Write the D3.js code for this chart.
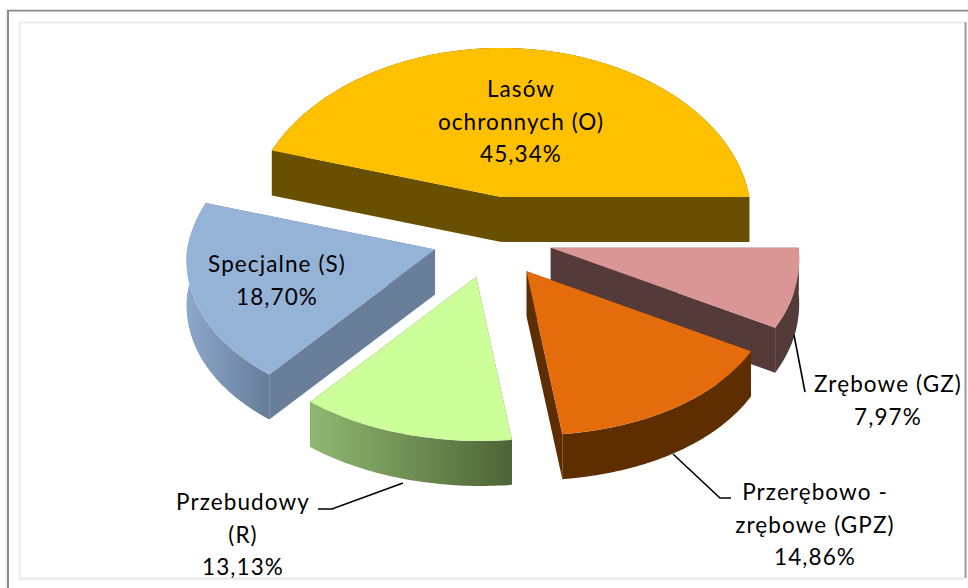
<!DOCTYPE html>
<html lang="pl">
<head>
<meta charset="utf-8">
<script src="https://cdn.jsdelivr.net/npm/d3@7"></script>
<style>
html,body{margin:0;padding:0;background:#fff;overflow:hidden}
svg{display:block}
text{font-family:Lato,"Open Sans",sans-serif;fill:#000}
</style>
</head>
<body>
<script>
// Data, clockwise from the left end of the largest slice
const categories = ["Lasów ochronnych (O)", "Zrębowe (GZ)", "Przerębowo - zrębowe (GPZ)", "Przebudowy (R)", "Specjalne (S)"];
const values = [45.34, 7.97, 14.86, 13.13, 18.70];
const labelLines = [["Lasów", "ochronnych (O)"], ["Zrębowe (GZ)"], ["Przerębowo -", "zrębowe (GPZ)"], ["Przebudowy", "(R)"], ["Specjalne (S)"]];

// Styles and layout
const topColors = ["#FFC000", "#D99694", "#E46C0A", "#CCFF99", "#95B3D7"];
const wallLeft = ["#695000", "#553A3A", "#5E2D00", "#90B870", "#8DA8CC"];
const wallRight = ["#695000", "#553A3A", "#5E2D00", "#4E6437", "#667C98"];
const edgeColors = ["#695000", "#553A3A", "#5E2D00", "#5E7A45", "#687E99"];
const drawOrder = [0, 1, 4, 2, 3];
const labelCentres = [[521, 97], [888, 392], [815, 500], [243, 510], [277, 272]];
const leaders = [null, [[794, 335], [805, 392]], [[673, 454], [720, 498], [731, 498]], [[403, 483], [332, 509], [318, 509]], null];
const W = 968, H = 588, cx = 492.5, cy = 237.5, rx = 248, explodeX = 60, explodeY = 41, depth = 45, lineH = 32.6;

const svg = d3.select("body").append("svg").attr("width", W).attr("height", H).attr("viewBox", [0, 0, W, H]);
const defs = svg.append("defs");

// Frame
const frame = svg.append("g").attr("fill", "none");
frame.append("path").attr("d", "M8,588V10.5H968").attr("stroke", "#8a8a8a").attr("stroke-width", 2);
frame.append("path").attr("d", "M6,588V9.5H968").attr("stroke", "#e4e4e4").attr("stroke-width", 1);
frame.append("path").attr("d", "M965.5,22V578").attr("stroke", "#9a9a9a").attr("stroke-width", 2);
frame.append("path").attr("d", "M19.5,578V22.5H964").attr("stroke", "#ececec").attr("stroke-width", 2);
frame.append("path").attr("d", "M19,578.5H964").attr("stroke", "#ededed").attr("stroke-width", 3);

// Slices
const pie = d3.pie().sort(null).startAngle(-73.2 * Math.PI / 180).endAngle((360 - 73.2) * Math.PI / 180);
const arcs = pie(values);
const line = d3.line();

// Perspective: the rim is narrower and flatter towards the back of the pie
function ellipsePoint(a, ox, oy, dz) {
  const c = Math.cos(a), s = Math.sin(a);
  const k = 1 - c * (c > 0 ? 0.117 : 0.067);
  const ry = c > 0 ? 149 + 16 * (1 - c) : 164 + 3 * s;
  return [ox + rx * k * s, oy - c * ry + dz];
}
function sampleArc(d, ox, oy, dz) {
  const n = Math.ceil((d.endAngle - d.startAngle) * 60);
  return d3.range(n + 1).map(i => ellipsePoint(d.startAngle + (d.endAngle - d.startAngle) * i / n, ox, oy, dz));
}

drawOrder.forEach(i => {
  const d = arcs[i];
  const mid = (d.startAngle + d.endAngle) / 2;
  const ox = cx + explodeX * Math.sin(mid);
  const oy = cy - explodeY * Math.cos(mid);
  const g = svg.append("g");
  const topArc = sampleArc(d, ox, oy, 0);
  const lowArc = sampleArc(d, ox, oy, depth);
  const first = topArc[0], last = topArc[topArc.length - 1];

  // radial walls, two quads in one path so no seam shows at the apex
  g.append("path")
    .attr("d", [first, last].map(p => line([[ox, oy], p, [p[0], p[1] + depth], [ox, oy + depth]]) + "Z").join(""))
    .attr("fill", edgeColors[i]);

  // outer wall
  const xs = d3.extent(topArc, p => p[0]);
  const gid = "wall" + i;
  const grad = defs.append("linearGradient").attr("id", gid).attr("gradientUnits", "userSpaceOnUse")
    .attr("x1", xs[0]).attr("x2", xs[1]).attr("y1", 0).attr("y2", 0);
  grad.append("stop").attr("offset", 0).attr("stop-color", wallLeft[i]);
  grad.append("stop").attr("offset", 1).attr("stop-color", wallRight[i]);
  g.append("path")
    .attr("d", line(topArc.concat(lowArc.slice().reverse())) + "Z")
    .attr("fill", `url(#${gid})`);

  // top face
  g.append("path")
    .attr("d", line([[ox, oy]].concat(topArc)) + "Z")
    .attr("fill", topColors[i]);
});

// Leader lines
svg.append("g").selectAll("path").data(leaders.filter(Boolean)).join("path")
  .attr("d", line).attr("fill", "none").attr("stroke", "#000").attr("stroke-width", 1.6);

// Labels
categories.forEach((name, i) => {
  const lines = labelLines[i].concat(values[i].toFixed(2).replace(".", ",") + "%");
  const [x, y] = labelCentres[i];
  const t = svg.append("text").attr("aria-label", name).attr("text-anchor", "middle").attr("font-size", 22.5).attr("letter-spacing", 1.1);
  lines.forEach((s, k) => t.append("tspan").attr("x", x).attr("y", y + k * lineH).text(s));
});
</script>
</body>
</html>
